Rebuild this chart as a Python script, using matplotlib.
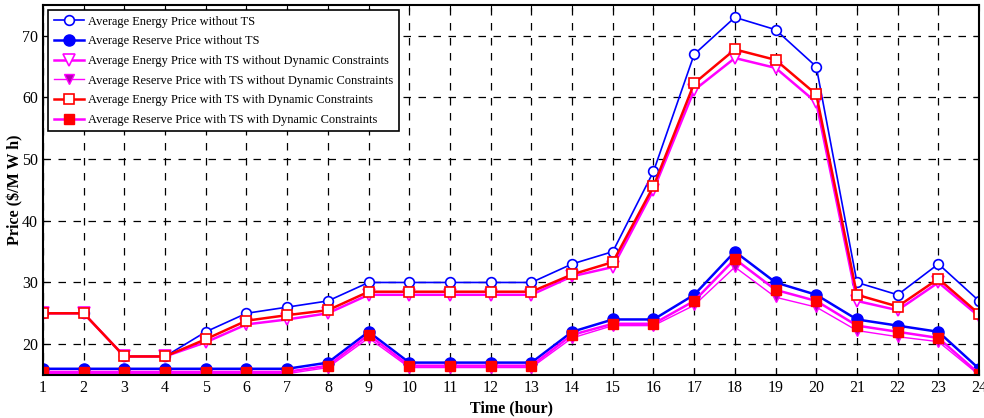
import numpy as np
import matplotlib
matplotlib.use('Agg')
import matplotlib.pyplot as plt

hours = np.arange(1, 25)

energy_no_ts = [25, 25, 18, 18, 22, 25, 26, 27, 30, 30, 30, 30, 30, 33, 35, 48,
                67, 73, 71, 65, 30, 28, 33, 27]
reserve_no_ts = [16, 16, 16, 16, 16, 16, 16, 17, 22, 17, 17, 17, 17, 22, 24, 24,
                 28, 35, 30, 28, 24, 23, 22, 16]
energy_ts_nodyn = [25, 25, 18, 18, 20.3, 23.2, 24, 25, 28, 28, 28, 28, 28, 31, 32.5, 45,
                   61.2, 66.4, 64.8, 59.2, 27, 25.5, 30, 24.5]
reserve_ts_nodyn = [15.2, 15.2, 15.2, 15.2, 15.2, 15.2, 15.2, 16.2, 21, 16.2, 16.2, 16.2, 16.2,
                    21, 23, 23, 26.3, 32.5, 27.6, 26, 22.2, 21.2, 20.4, 15]
energy_ts_dyn = [25, 25, 18, 18, 20.8, 23.8, 24.7, 25.5, 28.5, 28.5, 28.5, 28.5, 28.5, 31.3,
                 33.3, 45.6, 62.3, 67.8, 66.1, 60.5, 28, 26.1, 30.6, 24.9]
reserve_ts_dyn = [15.5, 15.5, 15.5, 15.5, 15.5, 15.5, 15.5, 16.5, 21.5, 16.5, 16.5, 16.5, 16.5,
                  21.5, 23.3, 23.3, 27, 33.8, 28.8, 27, 23, 22, 21, 15.2]

plt.rcParams['font.family'] = ['Liberation Serif', 'DejaVu Serif']

fig = plt.figure(figsize=(9.84, 4.18), dpi=100)
ax = fig.add_axes([0.0437, 0.103, 0.9513, 0.885])

ax.plot(hours, energy_no_ts, color='blue', lw=1.2, marker='o', ms=7,
        mfc='white', mec='blue', mew=1.2, label='Average Energy Price without TS')
ax.plot(hours, reserve_no_ts, color='blue', lw=1.8, marker='o', ms=8,
        mfc='blue', mec='blue', label='Average Reserve Price without TS')
ax.plot(hours, energy_ts_nodyn, color='magenta', lw=1.8, marker='v', ms=8,
        mfc='white', mec='magenta', mew=1.2,
        label='Average Energy Price with TS without Dynamic Constraints')
ax.plot(hours, reserve_ts_nodyn, color='magenta', lw=1.0, marker='v', ms=7,
        mfc='#b000b0', mec='magenta',
        label='Average Reserve Price with TS without Dynamic Constraints')
ax.plot(hours, energy_ts_dyn, color='red', lw=1.8, marker='s', ms=7,
        mfc='white', mec='red', mew=1.2,
        label='Average Energy Price with TS with Dynamic Constraints')
ax.plot(hours, reserve_ts_dyn, color='magenta', lw=1.8, marker='s', ms=7,
        mfc='red', mec='red',
        label='Average Reserve Price with TS with Dynamic Constraints')

ax.set_xlim(1, 24)
ax.set_ylim(15, 75)
ax.set_xticks(hours)
ax.set_yticks([20, 30, 40, 50, 60, 70])
ax.grid(True, color='black', linestyle=(0, (6, 6)), lw=0.9)
ax.tick_params(direction='in', top=True, right=True, labelsize=11.5, length=4)
for s in ax.spines.values():
    s.set_linewidth(1.5)

ax.set_xlabel('Time (hour)', fontsize=11.5, fontweight='bold', labelpad=3)
ax.set_ylabel('Price ($/M W h)', fontsize=11.5, fontweight='bold')
ax.yaxis.set_label_coords(-0.021, 0.5)

leg = ax.legend(loc='upper left', fontsize=8.9, fancybox=False, framealpha=1,
                edgecolor='black', borderaxespad=0.4, handlelength=2.5,
                labelspacing=0.62, borderpad=0.45, handletextpad=0.3)
leg.get_frame().set_linewidth(1.2)

fig.savefig('out.png', dpi=100)
